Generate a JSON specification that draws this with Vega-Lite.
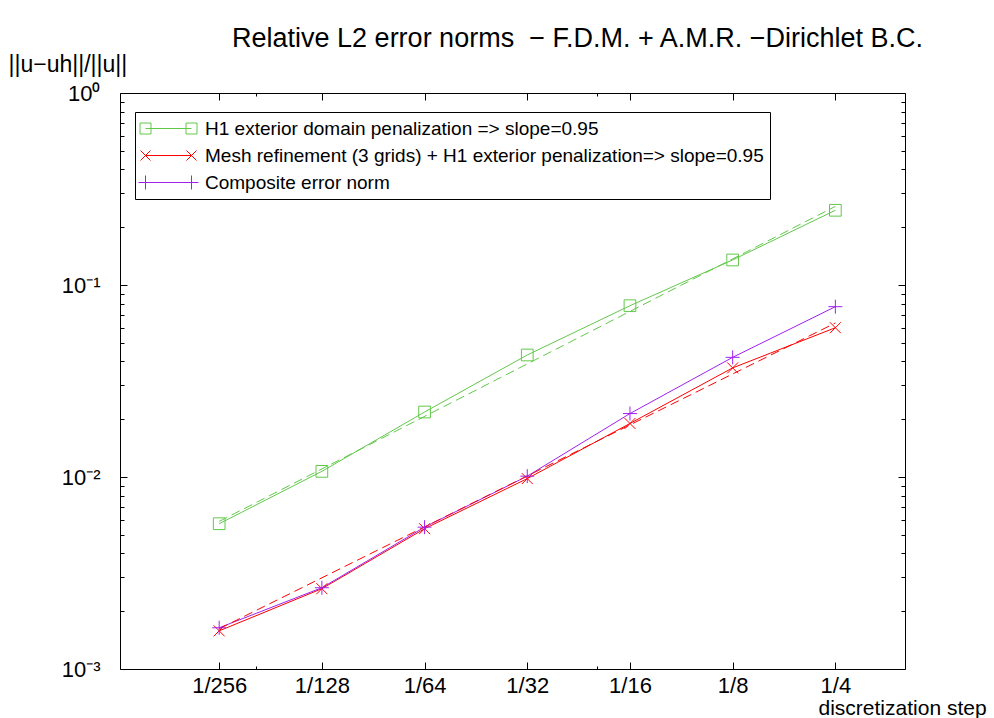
{
  "$schema": "https://vega.github.io/schema/vega-lite/v6.json",
  "width": 785,
  "height": 576,
  "autosize": {"type": "none"},
  "padding": {"left": 120, "top": 93, "right": 89, "bottom": 49},
  "title": {
    "text": "Relative L2 error norms\u00a0 − F.D.M. + A.M.R. −Dirichlet B.C.",
    "font": "Liberation Sans",
    "fontSize": 27,
    "fontWeight": "normal",
    "color": "black",
    "anchor": "middle",
    "frame": "group",
    "dx": 65,
    "baseline": "alphabetic",
    "offset": -21
  },
  "datasets": {
    "main": [
      {"series": "H1 exterior domain penalization => slope=0.95", "h": 0.00390625, "err": 0.00571},
      {"series": "H1 exterior domain penalization => slope=0.95", "h": 0.0078125, "err": 0.0107},
      {"series": "H1 exterior domain penalization => slope=0.95", "h": 0.015625, "err": 0.0218},
      {"series": "H1 exterior domain penalization => slope=0.95", "h": 0.03125, "err": 0.0432},
      {"series": "H1 exterior domain penalization => slope=0.95", "h": 0.0625, "err": 0.078},
      {"series": "H1 exterior domain penalization => slope=0.95", "h": 0.125, "err": 0.135},
      {"series": "H1 exterior domain penalization => slope=0.95", "h": 0.25, "err": 0.245},
      {"series": "Mesh refinement (3 grids) + H1 exterior penalization=> slope=0.95", "h": 0.00390625, "err": 0.00158},
      {"series": "Mesh refinement (3 grids) + H1 exterior penalization=> slope=0.95", "h": 0.0078125, "err": 0.00262},
      {"series": "Mesh refinement (3 grids) + H1 exterior penalization=> slope=0.95", "h": 0.015625, "err": 0.00538},
      {"series": "Mesh refinement (3 grids) + H1 exterior penalization=> slope=0.95", "h": 0.03125, "err": 0.00981},
      {"series": "Mesh refinement (3 grids) + H1 exterior penalization=> slope=0.95", "h": 0.0625, "err": 0.019},
      {"series": "Mesh refinement (3 grids) + H1 exterior penalization=> slope=0.95", "h": 0.125, "err": 0.037},
      {"series": "Mesh refinement (3 grids) + H1 exterior penalization=> slope=0.95", "h": 0.25, "err": 0.0599},
      {"series": "Composite error norm", "h": 0.00390625, "err": 0.00164},
      {"series": "Composite error norm", "h": 0.0078125, "err": 0.00265},
      {"series": "Composite error norm", "h": 0.015625, "err": 0.00548},
      {"series": "Composite error norm", "h": 0.03125, "err": 0.0101},
      {"series": "Composite error norm", "h": 0.0625, "err": 0.0214},
      {"series": "Composite error norm", "h": 0.125, "err": 0.042},
      {"series": "Composite error norm", "h": 0.25, "err": 0.0771}
    ],
    "fit": [
      {"series": "H1 exterior domain penalization => slope=0.95", "h": 0.00390625, "err": 0.00587},
      {"series": "H1 exterior domain penalization => slope=0.95", "h": 0.25, "err": 0.2567},
      {"series": "Mesh refinement (3 grids) + H1 exterior penalization=> slope=0.95", "h": 0.00390625, "err": 0.00162},
      {"series": "Mesh refinement (3 grids) + H1 exterior penalization=> slope=0.95", "h": 0.25, "err": 0.0634}
    ]
  },
  "config": {
    "view": {"stroke": "black", "strokeWidth": 1},
    "font": "Liberation Sans",
    "axis": {
      "domain": false,
      "grid": false,
      "tickColor": "black",
      "tickWidth": 1,
      "labelColor": "black",
      "titleColor": "black",
      "labelFont": "Liberation Sans",
      "titleFont": "Liberation Sans",
      "titleFontWeight": "normal"
    }
  },
  "layer": [
    {
      "data": {"name": "main"},
      "mark": {"type": "line", "strokeWidth": 1},
      "encoding": {
        "x": {
          "field": "h", "type": "quantitative",
          "scale": {"type": "log", "base": 2, "domain": [0.002, 0.4], "nice": false},
          "axis": {
            "orient": "bottom",
            "values": [0.00390625, 0.0078125, 0.015625, 0.03125, 0.0625, 0.125, 0.25],
            "labelExpr": "'1/' + round(1/datum.value)",
            "tickSize": -7,
            "labelPadding": 13,
            "labelFontSize": 22,
            "labelFlush": false,
            "title": "discretization step",
            "titleFontSize": 21,
            "titleAlign": "left",
            "titleBaseline": "alphabetic",
            "titleX": 698,
            "titleY": 45
          }
        },
        "y": {
          "field": "err", "type": "quantitative",
          "scale": {"type": "log", "domain": [0.001, 1], "nice": false},
          "axis": {
            "orient": "left",
            "values": [0.001, 0.01, 0.1, 1],
            "labelExpr": "datum.value >= 0.5 ? '10⁰' : datum.value >= 0.05 ? '10⁻¹' : datum.value >= 0.005 ? '10⁻²' : '10⁻³'",
            "tickSize": -7,
            "labelPadding": 27,
            "labelFontSize": 22,
            "labelFlush": false,
            "title": "||u−uh||/||u||",
            "titleFontSize": 23,
            "titleAngle": 0,
            "titleAlign": "left",
            "titleBaseline": "alphabetic",
            "titleX": -112,
            "titleY": -22
          }
        },
        "color": {
          "field": "series", "type": "nominal",
          "scale": {
            "domain": ["H1 exterior domain penalization => slope=0.95", "Mesh refinement (3 grids) + H1 exterior penalization=> slope=0.95", "Composite error norm"],
            "range": ["#62c84a", "#ff0000", "#a020f0"]
          },
          "legend": {
            "orient": "none",
            "legendX": 15,
            "legendY": 19,
            "title": null,
            "strokeColor": "black",
            "fillColor": "white",
            "padding": 6,
            "labelFontSize": 19,
            "labelFont": "Liberation Sans",
            "labelColor": "black",
            "labelLimit": 0,
            "labelOffset": 43,
            "symbolSize": 400,
            "symbolStrokeWidth": 1,
            "rowPadding": 6,
            "encode": {
              "symbols": {
                "update": {
                  "shape": {"signal": "datum.value === 'Composite error norm' ? 'M-1.3,0H4.7M-0.6,-0.7V0.7M4,-0.7V0.7' : indexof(datum.value, 'Mesh') === 0 ? 'M-0.6,0H4M-1.1,-0.5L-0.1,0.5M-1.1,0.5L-0.1,-0.5M3.5,-0.5L4.5,0.5M3.5,0.5L4.5,-0.5' : 'M-0.6,0H4M-1.15,-0.55H-0.05V0.55H-1.15ZM3.45,-0.55H4.55V0.55H3.45Z'"},
                  "fill": {"value": "transparent"},
                  "stroke": {"signal": "datum.value === 'Composite error norm' ? '#a020f0' : indexof(datum.value, 'Mesh') === 0 ? '#ff0000' : '#62c84a'"},
                  "strokeWidth": {"value": 1},
                  "opacity": {"value": 1}
                }
              }
            }
          }
        }
      }
    },
    {
      "data": {"name": "fit"},
      "mark": {"type": "line", "strokeWidth": 1, "strokeDash": [9, 5]},
      "encoding": {
        "x": {
          "field": "h", "type": "quantitative",
          "axis": {"orient": "top", "values": [0.00390625, 0.0078125, 0.015625, 0.03125, 0.0625, 0.125, 0.25], "labels": false, "tickSize": -7, "title": null}
        },
        "y": {
          "field": "err", "type": "quantitative",
          "axis": {"orient": "right", "values": [0.001, 0.01, 0.1, 1], "labels": false, "tickSize": -7, "title": null}
        },
        "color": {"field": "series", "type": "nominal", "legend": null}
      }
    },
    {
      "data": {"name": "main"},
      "transform": [{"filter": "datum.series === 'H1 exterior domain penalization => slope=0.95'"}],
      "mark": {"type": "point", "filled": false, "strokeWidth": 1, "opacity": 1, "shape": "square", "size": 137},
      "encoding": {
        "x": {
          "field": "h", "type": "quantitative",
          "axis": {"orient": "bottom", "values": [0.005, 0.05], "labels": false, "tickSize": -3, "title": null}
        },
        "y": {
          "field": "err", "type": "quantitative",
          "axis": {"orient": "left", "values": [0.002, 0.003, 0.004, 0.005, 0.006, 0.007, 0.008, 0.009, 0.02, 0.03, 0.04, 0.05, 0.06, 0.07, 0.08, 0.09, 0.2, 0.3, 0.4, 0.5, 0.6, 0.7, 0.8, 0.9], "labels": false, "tickSize": -4, "title": null}
        },
        "color": {"field": "series", "type": "nominal", "legend": null}
      }
    },
    {
      "data": {"name": "main"},
      "transform": [{"filter": "datum.series === 'Mesh refinement (3 grids) + H1 exterior penalization=> slope=0.95'"}],
      "mark": {"type": "point", "filled": false, "strokeWidth": 1, "opacity": 1, "shape": "M-1,-1L1,1M-1,1L1,-1", "size": 121},
      "encoding": {
        "x": {
          "field": "h", "type": "quantitative",
          "axis": {"orient": "top", "values": [0.005, 0.05], "labels": false, "tickSize": -3, "title": null}
        },
        "y": {
          "field": "err", "type": "quantitative",
          "axis": {"orient": "right", "values": [0.002, 0.003, 0.004, 0.005, 0.006, 0.007, 0.008, 0.009, 0.02, 0.03, 0.04, 0.05, 0.06, 0.07, 0.08, 0.09, 0.2, 0.3, 0.4, 0.5, 0.6, 0.7, 0.8, 0.9], "labels": false, "tickSize": -4, "title": null}
        },
        "color": {"field": "series", "type": "nominal", "legend": null}
      }
    },
    {
      "data": {"name": "main"},
      "transform": [{"filter": "datum.series === 'Composite error norm'"}],
      "mark": {"type": "point", "filled": false, "strokeWidth": 1, "opacity": 1, "shape": "M-1,0H1M0,-1V1", "size": 196},
      "encoding": {
        "x": {"field": "h", "type": "quantitative", "axis": null},
        "y": {"field": "err", "type": "quantitative", "axis": null},
        "color": {"field": "series", "type": "nominal", "legend": null}
      }
    }
  ],
  "resolve": {
    "axis": {"x": "independent", "y": "independent"},
    "scale": {"x": "shared", "y": "shared", "color": "shared"}
  }
}
